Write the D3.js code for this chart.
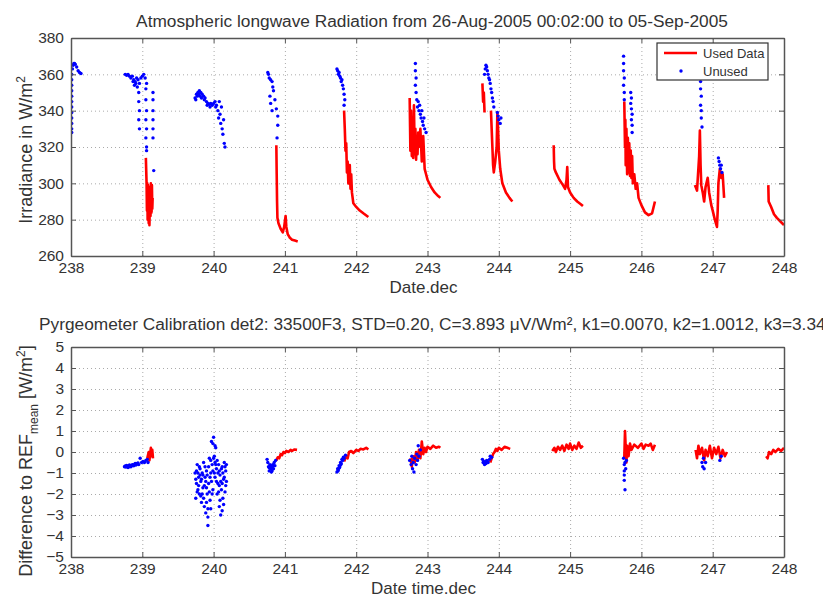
<!DOCTYPE html>
<html>
<head>
<meta charset="utf-8">
<script src="https://cdn.jsdelivr.net/npm/d3@7"></script>
<style>
  body { margin: 0; background: #fff; }
  text { font-family: "Liberation Sans", Arial, sans-serif; fill: #333; }
</style>
</head>
<body>
<div id="chart"></div>
<script>
// x ticks (day of year, decimal)
const dayTicks = [238, 239, 240, 241, 242, 243, 244, 245, 246, 247, 248];
const irrTicks = [260, 280, 300, 320, 340, 360, 380];
const diffTicks = [-5, -4, -3, -2, -1, 0, 1, 2, 3, 4, 5];

const topTitle = 'Atmospheric longwave Radiation from 26-Aug-2005 00:02:00 to 05-Sep-2005';
const bottomTitle = 'Pyrgeometer Calibration det2: 33500F3, STD=0.20, C=3.893 \u03BCV/Wm\u00B2, k1=0.0070, k2=1.0012, k3=3.340';

// top panel, used data: one line per night
const topUsed = [
  [[239.05, 314], [239.06, 300], [239.065, 285], [239.07, 300], [239.075, 280], [239.08, 299], [239.09, 278], [239.095, 298], [239.1, 277], [239.11, 296], [239.115, 282], [239.12, 300], [239.13, 284], [239.135, 299], [239.14, 286], [239.145, 292]],
  [[240.88, 321], [240.885, 305], [240.89, 290], [240.895, 281], [240.91, 278], [240.94, 275], [240.97, 273], [240.99, 276], [241.01, 282], [241.02, 276], [241.04, 272], [241.07, 270], [241.1, 269], [241.14, 268.5], [241.18, 268]],
  [[241.83, 340], [241.84, 330], [241.85, 318], [241.86, 322], [241.87, 306], [241.88, 312], [241.89, 300], [241.91, 310], [241.92, 297], [241.93, 305], [241.94, 295], [241.96, 289], [242.0, 287], [242.05, 285], [242.1, 283.5], [242.17, 281.5]],
  [[242.75, 347], [242.76, 318], [242.77, 340], [242.78, 315], [242.79, 335], [242.8, 314], [242.81, 343], [242.82, 316], [242.83, 330], [242.84, 313], [242.85, 325], [242.86, 316], [242.87, 328], [242.88, 320], [242.9, 330], [242.92, 312], [242.94, 326], [242.96, 308], [242.98, 305], [243.0, 302], [243.05, 298], [243.1, 295], [243.15, 293], [243.18, 292]],
  [[243.77, 355], [243.78, 345], [243.79, 350], [243.8, 339]],
  [[243.89, 340], [243.9, 330], [243.91, 320], [243.92, 310], [243.93, 306], [243.95, 312], [243.97, 320], [243.98, 339], [243.99, 330], [244.0, 318], [244.02, 308], [244.05, 300], [244.1, 295], [244.15, 292], [244.19, 290]],
  [[244.77, 321], [244.775, 312], [244.78, 308], [244.8, 306], [244.85, 302], [244.9, 299], [244.93, 297], [244.95, 302], [244.96, 309], [244.97, 298], [245.0, 295], [245.05, 292], [245.1, 290], [245.15, 288.5], [245.18, 287.5]],
  [[245.76, 345], [245.77, 320], [245.775, 335], [245.78, 310], [245.79, 330], [245.8, 305], [245.81, 325], [245.82, 306], [245.83, 322], [245.84, 304], [245.85, 318], [245.86, 303], [245.87, 315], [245.88, 300], [245.9, 305], [245.92, 297], [245.94, 300], [245.96, 292], [246.0, 288], [246.05, 284], [246.1, 282.5], [246.15, 283.5], [246.19, 290]],
  [[246.75, 299], [246.78, 296], [246.81, 315], [246.82, 329], [246.83, 310], [246.84, 299], [246.86, 295], [246.88, 290], [246.9, 298], [246.93, 303], [246.95, 295], [246.98, 288], [247.0, 285], [247.03, 280], [247.06, 276], [247.07, 285], [247.08, 300], [247.1, 308], [247.12, 303], [247.14, 305], [247.16, 292]],
  [[247.78, 299], [247.785, 290], [247.82, 287], [247.86, 283], [247.9, 281], [247.95, 279], [248.0, 277]]
];

// top panel, unused data (dots)
const topUnused = [
  [238.01, 360], [238.02, 363], [238.03, 365], [238.04, 366], [238.05, 366], [238.06, 365.5], [238.08, 364], [238.1, 362], [238.12, 361], [238.14, 360.5],
  [238.01, 357], [238.01, 354], [238.01, 351], [238.01, 348], [238.01, 345], [238.01, 342], [238.01, 339], [238.01, 336], [238.01, 333], [238.01, 330], [238.01, 328],
  [238.76, 360], [238.78, 359.5], [238.8, 360], [238.82, 359], [238.84, 358], [238.86, 359], [238.88, 357], [238.9, 356], [238.92, 358], [238.94, 357], [238.96, 355], [238.98, 358], [239.0, 359], [239.02, 360], [239.04, 358], [239.06, 355],
  [238.87, 356], [238.89, 354], [238.91, 355], [238.93, 353],
  [238.95, 350], [238.95, 345], [238.96, 340], [238.95, 335], [238.96, 330],
  [239.05, 352], [239.05, 346], [239.06, 340], [239.05, 335], [239.06, 330], [239.05, 325], [239.06, 320], [239.06, 318],
  [239.15, 350], [239.15, 346], [239.15, 340], [239.15, 335], [239.15, 330], [239.15, 325], [239.16, 307],
  [239.74, 347], [239.76, 349], [239.78, 350], [239.8, 351], [239.82, 350], [239.84, 349], [239.86, 348], [239.88, 347], [239.9, 345], [239.92, 344], [239.94, 343.5], [239.96, 344], [239.98, 343], [240.0, 344], [240.02, 345], [240.04, 343], [240.06, 340], [240.07, 336], [240.08, 345], [240.09, 338], [240.1, 333], [240.11, 342], [240.12, 330], [240.13, 327], [240.14, 335], [240.15, 322], [240.16, 320],
  [239.75, 346], [239.77, 348], [239.79, 349], [239.81, 348], [239.83, 347], [239.87, 346], [239.91, 343], [239.95, 342], [240.03, 342],
  [240.76, 361], [240.77, 360], [240.78, 358], [240.8, 357], [240.82, 356], [240.83, 353], [240.84, 351], [240.79, 348], [240.8, 344], [240.82, 340], [240.86, 346], [240.88, 341], [240.9, 337], [240.9, 332], [240.89, 325],
  [241.73, 363], [241.74, 362], [241.75, 360], [241.76, 361], [241.77, 359], [241.78, 358], [241.79, 356], [241.8, 357], [241.81, 354], [241.82, 352], [241.83, 349], [241.84, 346], [241.83, 343],
  [242.83, 366], [242.83, 362], [242.84, 358], [242.83, 354], [242.84, 350], [242.85, 346], [242.86, 342], [242.87, 345], [242.88, 340], [242.89, 343], [242.9, 338], [242.91, 336], [242.92, 340], [242.93, 334], [242.94, 332], [242.95, 336], [242.96, 330], [242.98, 328],
  [243.8, 360], [243.81, 363], [243.82, 365], [243.83, 364], [243.84, 362], [243.85, 360], [243.86, 358], [243.87, 357], [243.88, 355], [243.89, 352], [243.9, 350], [243.91, 347], [243.92, 345], [243.93, 342], [243.98, 339], [243.99, 337], [244.0, 335], [244.02, 333], [244.03, 336],
  [245.75, 370], [245.75, 366], [245.75, 362], [245.76, 358], [245.75, 354], [245.76, 350], [245.76, 346], [245.85, 350], [245.86, 347], [245.85, 344], [245.86, 341], [245.87, 338], [245.86, 335], [245.87, 332], [245.87, 328],
  [246.83, 356], [246.83, 352], [246.84, 348], [246.83, 343], [246.84, 340], [246.84, 336], [246.85, 331], [247.08, 314], [247.09, 312], [247.1, 310], [247.11, 308], [247.12, 310], [247.13, 306]
];

// bottom panel, used data: difference to reference
const bottomUsed = [
  [[239.07, -0.3], [239.09, 0.0], [239.1, -0.4], [239.11, -0.1], [239.12, 0.2], [239.13, -0.2], [239.14, 0.1], [239.15, -0.3]],
  [[240.88, -0.4], [240.9, -0.25], [240.92, -0.3], [240.94, -0.1], [240.96, -0.15], [240.98, 0.0], [241.0, -0.05], [241.02, 0.05], [241.05, 0.0], [241.08, 0.1], [241.1, 0.05], [241.13, 0.12], [241.17, 0.1]],
  [[241.83, -0.45], [241.86, -0.2], [241.88, -0.3], [241.9, 0.0], [241.93, 0.05], [241.96, -0.05], [242.0, 0.1], [242.03, 0.05], [242.06, 0.15], [242.1, 0.12], [242.14, 0.2], [242.17, 0.12]],
  [[242.76, -0.3], [242.78, -0.7], [242.8, -0.2], [242.82, -0.5], [242.84, 0.0], [242.86, -0.4], [242.88, 0.1], [242.9, -0.3], [242.92, 0.5], [242.94, -0.1], [242.96, 0.2], [242.98, 0.0], [243.0, 0.25], [243.04, 0.15], [243.08, 0.3], [243.12, 0.2], [243.16, 0.25], [243.18, 0.2]],
  [[243.88, -0.5], [243.9, -0.3], [243.92, -0.1], [243.94, 0.0], [243.96, 0.15], [243.98, 0.05], [244.0, 0.2], [244.04, 0.1], [244.08, 0.25], [244.12, 0.2], [244.16, 0.15]],
  [[244.75, 0.05], [244.78, 0.2], [244.8, 0.0], [244.83, 0.25], [244.86, 0.1], [244.89, 0.3], [244.92, 0.05], [244.95, 0.35], [244.98, 0.15], [245.0, 0.4], [245.03, 0.1], [245.06, 0.3], [245.09, 0.15], [245.12, 0.45], [245.15, 0.2], [245.18, 0.3]],
  [[245.76, -0.3], [245.77, 1.0], [245.78, 0.2], [245.79, -0.5], [245.8, 0.3], [245.82, -0.2], [245.84, 0.4], [245.86, 0.1], [245.9, 0.35], [245.95, 0.2], [246.0, 0.4], [246.03, 0.15], [246.06, 0.35], [246.1, 0.3], [246.13, 0.4], [246.16, 0.1], [246.19, 0.35]],
  [[246.76, 0.1], [246.78, -0.3], [246.8, 0.3], [246.82, -0.1], [246.85, 0.2], [246.88, -0.4], [246.9, 0.1], [246.93, -0.2], [246.96, 0.3], [246.99, -0.3], [247.02, 0.2], [247.05, -0.1], [247.08, 0.25], [247.11, -0.3], [247.14, 0.1], [247.17, -0.2], [247.2, 0.0]],
  [[247.75, -0.2], [247.77, -0.3], [247.79, 0.0], [247.82, -0.1], [247.85, 0.1], [247.88, 0.0], [247.92, 0.15], [247.96, 0.05], [248.0, 0.2]]
];

// bottom panel, unused data (dots)
const bottomUnused = [
  [238.75, -0.7], [238.76, -0.66], [238.77, -0.72], [238.78, -0.64], [238.79, -0.68], [238.8, -0.74], [238.81, -0.7], [238.82, -0.62], [238.83, -0.65], [238.84, -0.7], [238.85, -0.66], [238.86, -0.6], [238.87, -0.62], [238.88, -0.66], [238.89, -0.6], [238.9, -0.55], [238.91, -0.62], [238.92, -0.58], [238.93, -0.55], [238.94, -0.52], [238.95, -0.6], [238.97, -0.3], [238.99, -0.5], [239.01, -0.45], [239.03, -0.5], [239.05, -0.4], [239.07, -0.35], [239.08, -0.5],
  [239.74, -1.0], [239.75, -2.2], [239.76, -1.5], [239.77, -0.6], [239.78, -1.8], [239.79, -1.2], [239.8, -2.0], [239.81, -0.8], [239.82, -1.4], [239.83, -2.4], [239.84, -1.0], [239.85, -1.7], [239.86, -0.5], [239.87, -2.6], [239.88, -1.2], [239.89, -2.9], [239.9, -0.9], [239.91, -2.0], [239.92, -3.5], [239.93, -1.5], [239.94, -0.3], [239.95, -2.3], [239.96, -1.0], [239.97, 0.5], [239.98, -0.6], [239.99, -1.8], [240.0, 0.7], [240.01, -0.2], [240.02, -1.2], [240.03, 0.2], [240.04, -0.8], [240.05, -2.0], [240.06, -1.5], [240.07, -0.6], [240.08, -2.6], [240.09, -1.1], [240.1, -3.0], [240.11, -1.8], [240.12, -0.7], [240.13, -2.2], [240.14, -1.3], [240.15, -0.5], [240.16, -1.9], [240.17, -0.9], [240.18, -1.4], [239.78, -1.0], [239.84, -2.0], [239.9, -1.7], [239.96, -2.7], [240.02, -0.5], [240.08, -1.6], [240.12, -2.8],
  [239.75, -1.3], [239.76, -0.9], [239.77, -1.9], [239.79, -1.6], [239.8, -0.7], [239.81, -1.1], [239.82, -2.1], [239.83, -1.3], [239.85, -1.1], [239.86, -2.2], [239.87, -1.6], [239.88, -0.7], [239.89, -1.4], [239.9, -2.4], [239.91, -1.1], [239.92, -2.7], [239.93, -0.7], [239.94, -1.9], [239.95, -1.2], [239.96, -0.4], [239.97, -1.4], [239.98, -2.0], [239.99, -0.9], [240.0, -0.3], [240.01, -1.0], [240.02, 0.3], [240.03, -0.6], [240.04, -1.4], [240.05, -0.4], [240.06, -1.0], [240.07, -1.9], [240.08, -0.9], [240.09, -2.3], [240.1, -1.4], [240.11, -0.8], [240.12, -1.5], [240.13, -1.0], [240.14, -2.5], [240.15, -1.2], [240.16, -0.7], [240.17, -1.6], [240.18, -0.6], [239.99, 0.4], [239.92, -3.1],
  [240.75, -0.35], [240.76, -0.5], [240.77, -0.7], [240.78, -0.9], [240.79, -0.6], [240.8, -0.8], [240.81, -0.95], [240.82, -0.75], [240.83, -0.6], [240.84, -0.8], [240.85, -0.5], [240.86, -0.65], [240.87, -0.4], [240.78, -0.75], [240.8, -0.65], [240.82, -0.9], [240.84, -0.65],
  [241.73, -0.95], [241.74, -0.8], [241.75, -0.85], [241.76, -0.65], [241.77, -0.7], [241.78, -0.5], [241.79, -0.55], [241.8, -0.35], [241.81, -0.4], [241.82, -0.25], [241.83, -0.3], [241.85, -0.15], [241.745, -0.9], [241.765, -0.75], [241.785, -0.6],
  [242.75, -0.4], [242.77, -0.6], [242.78, -0.2], [242.79, -0.8], [242.8, -0.5], [242.81, -0.95], [242.82, -0.3], [242.84, -0.6], [242.85, -0.1], [242.86, -0.4], [242.87, 0.3], [242.88, -0.2], [242.9, 0.1],
  [243.77, -0.35], [243.78, -0.5], [243.79, -0.45], [243.8, -0.6], [243.82, -0.55], [243.83, -0.4], [243.85, -0.5], [243.87, -0.35], [243.88, -0.2], [243.9, -0.25], [243.81, -0.5], [243.84, -0.45],
  [245.75, -0.3], [245.76, -0.6], [245.76, -0.9], [245.77, -0.5], [245.78, -0.8], [245.76, -1.1], [245.76, -1.35], [245.77, -1.8], [245.79, -0.4],
  [246.85, -0.5], [246.86, -0.7], [246.87, -0.3], [246.88, -0.8], [246.9, -0.5], [247.1, -0.4], [247.12, -0.2]
];

const width = 823;
const height = 597;
const left = 71;
const right = 784;

const svg = d3.select('#chart')
  .append('svg')
  .attr('width', width)
  .attr('height', height);

const x = d3.scaleLinear().domain([238, 248]).range([left, right]);

function panel(opts) {
  const y = d3.scaleLinear().domain(opts.yDomain).range([opts.bottom, opts.top]);
  const h = opts.bottom - opts.top;
  const g = svg.append('g');

  // dotted grid
  g.append('g')
    .attr('transform', `translate(0,${opts.bottom})`)
    .call(d3.axisBottom(x).tickValues(dayTicks).tickSize(-h).tickFormat(''))
    .call(s => s.select('.domain').remove())
    .call(s => s.selectAll('line').attr('stroke', '#aaa').attr('stroke-dasharray', '1,3'));
  g.append('g')
    .attr('transform', `translate(${left},0)`)
    .call(d3.axisLeft(y).tickValues(opts.yTicks).tickSize(-(right - left)).tickFormat(''))
    .call(s => s.select('.domain').remove())
    .call(s => s.selectAll('line').attr('stroke', '#aaa').attr('stroke-dasharray', '1,3'));

  // data, clipped to the axes box
  const clipId = 'clip' + opts.top;
  svg.append('clipPath').attr('id', clipId)
    .append('rect').attr('x', left).attr('y', opts.top).attr('width', right - left).attr('height', h);
  const data = g.append('g').attr('clip-path', `url(#${clipId})`);
  const line = d3.line().x(d => x(d[0])).y(d => y(d[1]));
  data.selectAll('path.used')
    .data(opts.used)
    .enter()
    .append('path')
    .attr('class', 'used')
    .attr('d', line)
    .attr('fill', 'none')
    .attr('stroke', '#ff0000')
    .attr('stroke-width', 2.6)
    .attr('stroke-linejoin', 'round');
  data.selectAll('circle')
    .data(opts.unused)
    .enter()
    .append('circle')
    .attr('cx', d => x(d[0]))
    .attr('cy', d => y(d[1]))
    .attr('r', 1.7)
    .attr('fill', '#0000ff');

  // axes with inward ticks on all four sides
  const axisStyle = s => {
    s.select('.domain').attr('stroke', '#555').attr('stroke-width', 1.5);
    s.selectAll('.tick line').attr('stroke', '#555');
    s.selectAll('text').attr('font-size', 15.5).attr('fill', '#333')
      .attr('font-family', '"Liberation Sans", Arial, sans-serif');
  };
  g.append('g')
    .attr('transform', `translate(0,${opts.bottom})`)
    .call(d3.axisBottom(x).tickValues(dayTicks).tickSizeInner(-5).tickSizeOuter(0).tickPadding(opts.xPad).tickFormat(d3.format('d')))
    .call(axisStyle);
  g.append('g')
    .attr('transform', `translate(0,${opts.top})`)
    .call(d3.axisTop(x).tickValues(dayTicks).tickSizeInner(-5).tickSizeOuter(0).tickFormat(''))
    .call(axisStyle);
  g.append('g')
    .attr('transform', `translate(${left},0)`)
    .call(d3.axisLeft(y).tickValues(opts.yTicks).tickSizeInner(-5).tickSizeOuter(0).tickPadding(7).tickFormat(d3.format('d')))
    .call(axisStyle);
  g.append('g')
    .attr('transform', `translate(${right},0)`)
    .call(d3.axisRight(y).tickValues(opts.yTicks).tickSizeInner(-5).tickSizeOuter(0).tickFormat(''))
    .call(axisStyle);

  // titles
  g.append('text')
    .attr('x', opts.titleX)
    .attr('y', opts.titleY)
    .attr('text-anchor', opts.titleAnchor)
    .attr('font-size', 17.3)
    .text(opts.title);
  g.append('text')
    .attr('x', (left + right) / 2 - 4)
    .attr('y', opts.bottom + 37)
    .attr('text-anchor', 'middle')
    .attr('font-size', 17)
    .text(opts.xLabel);
  const yl = g.append('text')
    .attr('transform', `translate(32,${opts.yLabelY}) rotate(-90)`)
    .attr('text-anchor', 'middle')
    .attr('font-size', 18);
  opts.yLabel(yl);
  return { g, y };
}

const topPanel = panel({
  top: 38, bottom: 256, yDomain: [260, 380], yTicks: irrTicks,
  used: topUsed, unused: topUnused,
  title: topTitle, titleX: 432, titleY: 27, titleAnchor: 'middle',
  xLabel: 'Date.dec', xPad: 6, yLabelY: 150,
  yLabel: t => {
    t.append('tspan').text('Irradiance in W/m');
    t.append('tspan').attr('dy', -7).attr('font-size', 12).text('2');
  }
});

panel({
  top: 347, bottom: 557, yDomain: [-5, 5], yTicks: diffTicks,
  used: bottomUsed, unused: bottomUnused,
  title: bottomTitle, titleX: 39, titleY: 330, titleAnchor: 'start',
  xLabel: 'Date time.dec', xPad: 6, yLabelY: 461,
  yLabel: t => {
    t.append('tspan').text('Difference to REF');
    t.append('tspan').attr('dy', 6).attr('font-size', 12).text('mean');
    t.append('tspan').attr('dy', -6).text(' [W/m');
    t.append('tspan').attr('dy', -7).attr('font-size', 12).text('2');
    t.append('tspan').attr('dy', 7).text(']');
  }
});

// legend in the top panel
const legend = topPanel.g.append('g');
legend.append('rect')
  .attr('x', 657).attr('y', 43).attr('width', 111).attr('height', 37)
  .attr('fill', '#fff').attr('stroke', '#333').attr('stroke-width', 1.2);
legend.append('line')
  .attr('x1', 664).attr('x2', 697).attr('y1', 53).attr('y2', 53)
  .attr('stroke', '#ff0000').attr('stroke-width', 2.6);
legend.append('circle')
  .attr('cx', 681).attr('cy', 71).attr('r', 1.7).attr('fill', '#0000ff');
legend.append('text').attr('x', 703).attr('y', 58).attr('font-size', 13).text('Used Data');
legend.append('text').attr('x', 703).attr('y', 76).attr('font-size', 13).text('Unused');
</script>
</body>
</html>
